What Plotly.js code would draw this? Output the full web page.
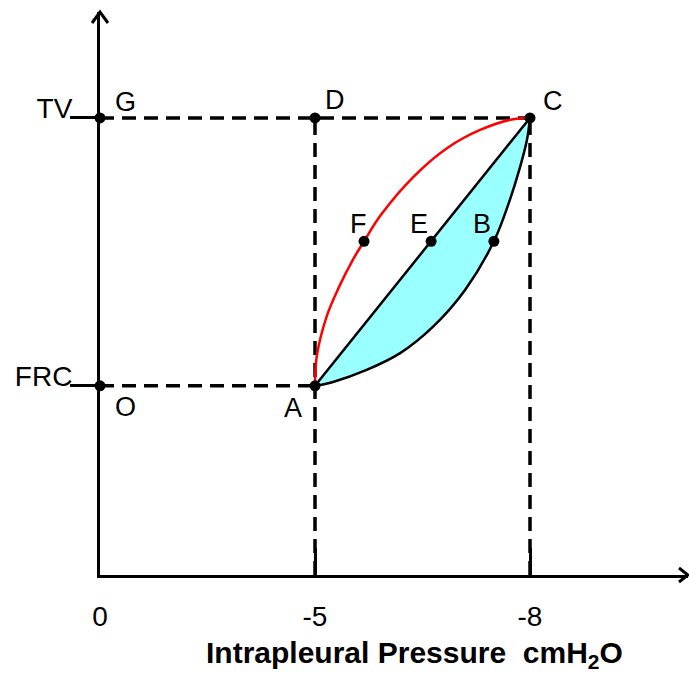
<!DOCTYPE html>
<html>
<head>
<meta charset="utf-8">
<script src="https://cdn.plot.ly/plotly-3.0.1.min.js"></script>
<style>
  html, body { margin: 0; padding: 0; background: #ffffff; }
  #chart { width: 689px; height: 677px; }
</style>
</head>
<body>
<div id="chart"></div>
<script>
// ---- data (scaled chart units: origin at axes crossing) ----
const pressureTicks = [0, 5, 10];
const pressureTickLabels = ['0', '-5', '-8'];
const volumeTicks = [4.4, 10.63];
const volumeTickLabels = ['FRC', 'TV'];

const pointNames = ['G', 'D', 'C', 'O', 'A', 'F', 'E', 'B'];
const pointX = [0, 5, 10, 0, 5, 6.14, 7.70, 9.16];
const pointY = [10.63, 10.63, 10.63, 4.4, 4.4, 7.76, 7.76, 7.76];

// inspiration curve A -> F -> C (red)
const curveAFCx = [5.0, 5.04, 5.27, 5.56, 5.88, 6.14, 6.53, 7.29, 8.06, 8.84, 9.61, 10.0];
const curveAFCy = [4.40, 5.08, 6.01, 6.70, 7.33, 7.76, 8.37, 9.26, 9.92, 10.35, 10.60, 10.63];

// curve A -> B -> C (black, bounds cyan area)
const curveABCx = [5.0, 5.42, 6.20, 6.98, 7.74, 8.49, 9.16, 9.53, 9.77, 9.93, 10.0];
const curveABCy = [4.40, 4.49, 4.77, 5.16, 5.77, 6.63, 7.76, 8.72, 9.49, 10.12, 10.63];

const xTitle = 'Intrapleural Pressure\u00a0\u00a0cmH<sub>2</sub>O';

// ---- helpers ----
function pt(name) { const i = pointNames.indexOf(name); return { x: pointX[i], y: pointY[i] }; }
const A = pt('A'), C = pt('C'), G = pt('G'), O = pt('O'), D = pt('D');

const FONT = 'Arial, "Liberation Sans", sans-serif';
const dashStyle = { color: '#000', width: 3.5, dash: '14px,8px' };
const SMOOTH = 1;

const traces = [];
// cyan area between straight A-C and curve A-B-C
traces.push({
  x: curveABCx, y: curveABCy, mode: 'lines', fill: 'toself',
  fillcolor: '#99FFFF', line: { width: 0, shape: 'spline', smoothing: SMOOTH },
  hoverinfo: 'skip'
});
// dashed guide lines
traces.push({ x: [G.x, C.x], y: [G.y, C.y], mode: 'lines', line: dashStyle, hoverinfo: 'skip' });
traces.push({ x: [O.x, A.x], y: [O.y, A.y], mode: 'lines', line: dashStyle, hoverinfo: 'skip' });
traces.push({ x: [A.x, D.x], y: [0, D.y], mode: 'lines', line: dashStyle, hoverinfo: 'skip' });
traces.push({ x: [C.x, C.x], y: [0, C.y], mode: 'lines', line: dashStyle, hoverinfo: 'skip' });
// straight A - C
traces.push({ x: [A.x, C.x], y: [A.y, C.y], mode: 'lines', line: { color: '#000', width: 2.5 }, hoverinfo: 'skip' });
// curve A-B-C
traces.push({ x: curveABCx, y: curveABCy, mode: 'lines', line: { color: '#000', width: 2.5, shape: 'spline', smoothing: SMOOTH }, hoverinfo: 'skip' });
// curve A-F-C
traces.push({ x: curveAFCx, y: curveAFCy, mode: 'lines', line: { color: '#FF0000', width: 2.5, shape: 'spline', smoothing: SMOOTH }, hoverinfo: 'skip' });
// points
traces.push({ x: pointX, y: pointY, mode: 'markers', marker: { color: '#000', size: 11 }, cliponaxis: false, hoverinfo: 'skip' });

// label offsets (px) for point letters
const labelOffset = {
  G: [25, 16], D: [20, 18], C: [23, 17], O: [25, -21],
  A: [-22, -22], F: [-6, 17], E: [-12, 17], B: [-12, 17]
};
const annotations = pointNames.map((n, i) => ({
  x: pointX[i], y: pointY[i], xref: 'x', yref: 'y', text: n, showarrow: false,
  xshift: labelOffset[n][0], yshift: labelOffset[n][1],
  xanchor: 'center', yanchor: 'middle',
  font: { family: FONT, size: 27, color: '#000' }
}));
annotations.push({
  xref: 'paper', yref: 'paper', x: 0.5357, y: -0.142, xanchor: 'center', yanchor: 'middle',
  text: '<b>' + xTitle + '</b>', showarrow: false,
  font: { family: FONT, size: 30, color: '#000' }
});

const XMAX = 588 / 43, YMAX = 563 / 43;
const layout = {
  width: 689, height: 677,
  margin: { l: 100, r: 1, t: 12, b: 102 },
  paper_bgcolor: '#fff', plot_bgcolor: '#fff',
  showlegend: false,
  xaxis: {
    range: [0, XMAX], showgrid: false, zeroline: false,
    showline: true, linewidth: 3, linecolor: '#000',
    ticks: 'inside', ticklen: 27, tickwidth: 3, tickcolor: '#000',
    tickmode: 'array', tickvals: pressureTicks, ticktext: pressureTickLabels,
    tickfont: { family: FONT, size: 28, color: '#000' },
    ticklabelstandoff: 14, fixedrange: true
  },
  yaxis: {
    range: [0, YMAX], showgrid: false, zeroline: false,
    showline: true, linewidth: 3, linecolor: '#000',
    ticks: 'outside', ticklen: 27, tickwidth: 3, tickcolor: '#000',
    tickmode: 'array', tickvals: volumeTicks, ticktext: volumeTickLabels,
    tickfont: { family: FONT, size: 28, color: '#000' },
    ticklabelshift: -10, ticklabelstandoff: -8, fixedrange: true
  },
  shapes: [
    { type: 'path', xref: 'paper', yref: 'paper', xsizemode: 'pixel', ysizemode: 'pixel',
      xanchor: 1, yanchor: 0, path: 'M -9 7 L 0 0 L -9 -7', line: { color: '#000', width: 3 }, layer: 'above' },
    { type: 'path', xref: 'paper', yref: 'paper', xsizemode: 'pixel', ysizemode: 'pixel',
      xanchor: 0, yanchor: 1, path: 'M -8 -11 L 0 0 L 8 -11', line: { color: '#000', width: 3 }, layer: 'above' }
  ],
  annotations: annotations
};

Plotly.newPlot('chart', traces, layout, { displayModeBar: false, staticPlot: true });
</script>
</body>
</html>
